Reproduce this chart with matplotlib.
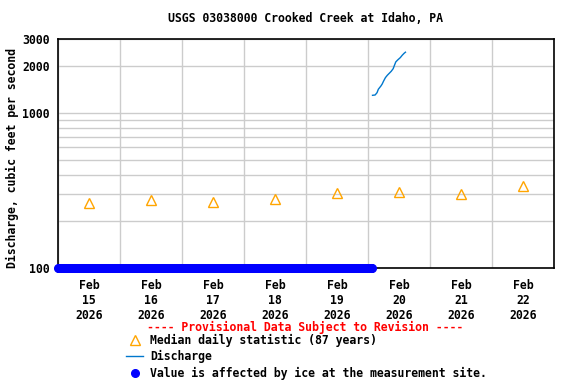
import numpy as np
import pandas as pd
import matplotlib
matplotlib.use("Agg")
import matplotlib.pyplot as plt
import matplotlib.dates as mdates
from matplotlib.lines import Line2D
from matplotlib.ticker import FixedLocator, NullFormatter

plt.rcParams["font.family"] = "DejaVu Sans Mono"
plt.rcParams["font.weight"] = "bold"
plt.rcParams["font.size"] = 8.3

# ---- data ----
median_days = ["2026-02-15 12:00", "2026-02-16 12:00", "2026-02-17 12:00", "2026-02-18 12:00",
               "2026-02-19 12:00", "2026-02-20 12:00", "2026-02-21 12:00", "2026-02-22 12:00"]
median_cfs = [261, 273, 265, 278, 303, 308, 299, 336]

q_hours = [1.75, 2.75, 3.5, 4.0, 5.0, 5.5, 6.0, 6.75, 7.5, 8.25,
           9.0, 9.75, 10.25, 10.75, 11.5, 12.5, 13.25, 14.0, 14.5]   # hours after Feb 20 00:00
q_cfs = [1300, 1306, 1352, 1422, 1493, 1538, 1602, 1691, 1752, 1804,
         1858, 1931, 2032, 2134, 2198, 2275, 2357, 2428, 2466]

ice_start, ice_end = "2026-02-15 00:00", "2026-02-20 01:30"   # 15-min values flagged as ice
ice_value = 100

tick_days = median_days
tick_labels = ["Feb\n%d\n2026" % d for d in range(15, 23)]
ytick_vals = [100, 1000, 2000, 3000]

# ---- build series ----
med_t = pd.to_datetime(median_days)
q_t = pd.Timestamp("2026-02-20") + pd.to_timedelta(q_hours, unit="h")
ice_t = pd.date_range(ice_start, ice_end, freq="15min")

fig = plt.figure(figsize=(5.76, 3.84), dpi=100)
ax = fig.add_axes([58/576, 1-268/384, 496/576, 229/384])

ax.plot(ice_t, [ice_value]*len(ice_t), "o", color="#0000FF", ms=5.5, mec="#0000FF",
        clip_on=False, zorder=5)
ax.plot(q_t, q_cfs, "-", color="#0077CC", lw=1, zorder=4)
ax.plot(med_t, median_cfs, "^", ms=7, mfc="none", mec="#FFA500", mew=1, zorder=4)

ax.set_yscale("log")
ax.set_ylim(100, 3000)
ax.set_xlim(pd.Timestamp("2026-02-15"), pd.Timestamp("2026-02-23"))

ax.yaxis.set_major_locator(FixedLocator(ytick_vals))
ax.set_yticklabels([str(v) for v in ytick_vals])
ax.yaxis.set_minor_locator(FixedLocator([200, 300, 400, 500, 600, 700, 800, 900, 2000]))
ax.yaxis.set_minor_formatter(NullFormatter())

ax.set_xticks(pd.to_datetime(tick_days))
ax.set_xticklabels(tick_labels, linespacing=1.2)
ax.xaxis.set_minor_locator(mdates.DayLocator())

ax.tick_params(axis="both", which="both", length=0)
ax.tick_params(axis="x", pad=8)
ax.tick_params(axis="y", pad=6)
ax.grid(False)
ax.grid(True, which="minor", color="#CCCCCC", lw=1)
ax.grid(True, which="major", axis="y", color="#CCCCCC", lw=1)
for s in ax.spines.values():
    s.set_linewidth(1.2)
    s.set_color("black")

fig.text(306/576, 1-19/384, "USGS 03038000 Crooked Creek at Idaho, PA", ha="center", va="center")
fig.text(12/576, 1-158/384, "Discharge, cubic feet per second", rotation=90, ha="center", va="center")
fig.text(305/576, 1-327/384, "---- Provisional Data Subject to Revision ----", color="red",
         ha="center", va="center")

legend_items = ["Median daily statistic (87 years)", "Discharge",
                "Value is affected by ice at the measurement site."]
for txt, yy in zip(legend_items, [340, 356, 373]):
    fig.text(150/576, 1-yy/384, txt, ha="left", va="center")
fig.add_artist(Line2D([135/576], [1-340/384], marker="^", ms=7, mfc="none", mec="#FFA500", mew=1))
fig.add_artist(Line2D([126/576, 143/576], [1-356/384]*2, color="#0077CC", lw=1))
fig.add_artist(Line2D([135/576], [1-373/384], marker="o", ms=5.5, color="#0000FF"))

fig.savefig("out.png", dpi=100)
